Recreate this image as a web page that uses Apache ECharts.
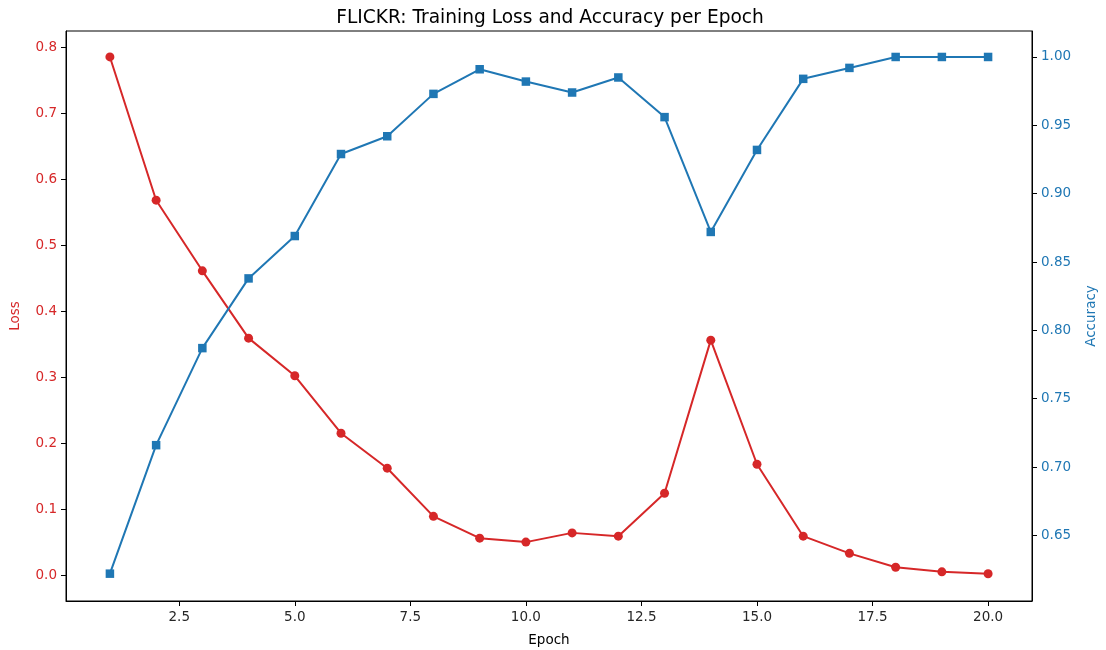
<!DOCTYPE html>
<html>
<head>
<meta charset="utf-8">
<script src="https://cdn.jsdelivr.net/npm/echarts@6/dist/echarts.min.js"></script>
<style>html,body{margin:0;padding:0;background:#fff;}#c{width:1106px;height:650px;}</style>
</head>
<body>
<div id="c"></div>
<script>
const epochs = [1,2,3,4,5,6,7,8,9,10,11,12,13,14,15,16,17,18,19,20];
const loss = [0.785,0.568,0.461,0.359,0.302,0.215,0.162,0.089,0.056,0.050,0.064,0.059,0.124,0.356,0.168,0.059,0.033,0.012,0.005,0.002];
const accuracy = [0.622,0.716,0.787,0.838,0.869,0.929,0.942,0.973,0.991,0.982,0.974,0.985,0.956,0.872,0.932,0.984,0.992,1.000,1.000,1.000];
const xTicks = [2.5,5,7.5,10,12.5,15,17.5,20];
const lossTicks = [0,0.1,0.2,0.3,0.4,0.5,0.6,0.7,0.8];
const accTicks = [0.65,0.70,0.75,0.80,0.85,0.90,0.95,1.00];

const RED = '#d62728', BLUE = '#1f77b4';
const FONT = 'DejaVu Sans';
const chart = echarts.init(document.getElementById('c'), null, {renderer:'canvas'});
chart.setOption({
  animation: false,
  backgroundColor: '#fff',
  title: {
    text: 'FLICKR: Training Loss and Accuracy per Epoch',
    left: 549, top: 4, textAlign: 'center',
    textStyle: {fontFamily: FONT, fontSize: 18.6, fontWeight: 'normal', color: '#000'}
  },
  grid: {left: 66, right: 74, top: 31, bottom: 49, outerBoundsMode: 'none', containLabel: false,
         show: true, borderColor: '#000', borderWidth: 1, backgroundColor: 'transparent'},
  xAxis: {
    type: 'value', min: 0.05, max: 20.95,
    name: 'Epoch', nameLocation: 'middle', nameGap: 32,
    nameTextStyle: {fontFamily: FONT, fontSize: 13.5, color: '#000'},
    axisLine: {show: true, onZero: false, lineStyle: {color: '#000', width: 1}},
    axisTick: {show: true, length: 5, customValues: xTicks, lineStyle: {color: '#000'}},
    axisLabel: {customValues: xTicks, formatter: v => v.toFixed(1), fontFamily: FONT, fontSize: 13.5, color: '#262626', margin: 9},
    splitLine: {show: false}
  },
  yAxis: [{
    type: 'value', min: -0.0392, max: 0.8243, position: 'left',
    name: 'Loss', nameLocation: 'middle', nameGap: 44,
    nameTextStyle: {fontFamily: FONT, fontSize: 13.5, color: RED},
    axisLine: {show: true, lineStyle: {color: '#000'}},
    axisTick: {show: true, length: 5, customValues: lossTicks, lineStyle: {color: '#000'}},
    axisLabel: {customValues: lossTicks, formatter: v => v.toFixed(1), fontFamily: FONT, fontSize: 13.5, color: RED, margin: 9},
    splitLine: {show: false}
  },{
    type: 'value', min: 0.602, max: 1.019, position: 'right',
    name: 'Accuracy', nameLocation: 'middle', nameGap: 52,
    nameTextStyle: {fontFamily: FONT, fontSize: 13.5, color: BLUE},
    axisLine: {show: true, lineStyle: {color: '#000'}},
    axisTick: {show: true, length: 5, customValues: accTicks, lineStyle: {color: '#000'}},
    axisLabel: {customValues: accTicks, formatter: v => v.toFixed(2), fontFamily: FONT, fontSize: 13.5, color: BLUE, margin: 9},
    splitLine: {show: false}
  }],
  series: [{
    name: 'Loss', type: 'line', yAxisIndex: 0,
    data: epochs.map((e,i) => [e, loss[i]]),
    symbol: 'circle', symbolSize: 9,
    lineStyle: {color: RED, width: 2}, itemStyle: {color: RED}
  },{
    name: 'Accuracy', type: 'line', yAxisIndex: 1,
    data: epochs.map((e,i) => [e, accuracy[i]]),
    symbol: 'rect', symbolSize: 8.5,
    lineStyle: {color: BLUE, width: 2}, itemStyle: {color: BLUE}
  }]
});
chart.setOption({title: {left: 545}});
</script>
</body>
</html>
